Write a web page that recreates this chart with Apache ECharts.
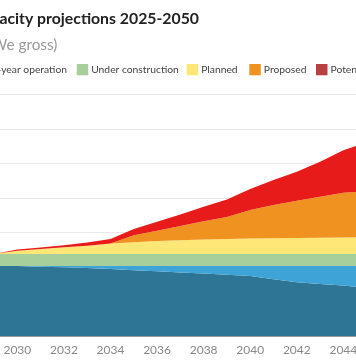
<!DOCTYPE html>
<html><head><meta charset="utf-8">
<script src="https://cdn.jsdelivr.net/npm/echarts@6/dist/echarts.min.js"></script>
<style>html,body{margin:0;padding:0;overflow:hidden;background:#fff;width:356px;height:364px}
#chart{position:absolute;left:-200px;top:0;width:720px;height:364px}</style>
</head><body><div id="chart"></div>
<script>
const titleText = 'Nuclear capacity projections 2025-2050';
const subtitleText = '(GWe gross)';
const years = ['2025','2026','2027','2028','2029','2030','2031','2032','2033','2034','2035','2036','2037','2038','2039','2040','2041','2042','2043','2044','2045','2046','2047','2048','2049','2050'];
const seriesNames = ['Operating: 40-year operation','Operating: 60-year operation','Under construction','Planned','Proposed','Potential'];
const operating40 = [202.6,202.6,202.6,202.6,202.6,202.6,200.6,198.8,196.8,193.9,190.1,187.2,183.8,180.9,177.4,173.6,164.1,155.4,150.5,146.1,138.9,132,124,116,108,100];
const operating60 = [0,0,0,0,0,0,2.0,3.8,5.8,8.7,12.5,15.4,18.8,21.7,25.2,29.0,38.5,47.2,52.1,56.5,63.7,70.6,78.6,86.6,94.6,102.6];
const underConstruction = [34.7,34.7,34.7,34.7,34.7,34.7,34.7,34.7,34.7,34.7,34.7,34.7,34.7,34.7,34.7,34.7,34.7,34.7,34.7,34.7,34.7,34.7,34.7,34.7,34.7,34.7];
const planned = [0,0,0,0,0,9.5,14.5,19.4,24.0,30.4,34.1,37.6,39.9,42.0,43.4,44.9,45.7,46.3,47.2,48.3,48.6,49.0,49.2,49.4,49.5,49.6];
const proposed = [0,0,0,0,0,0,0,0,0,0,20.3,30.1,41.1,52.7,63.7,82.5,96.1,107.9,118.7,129.1,133,137,140,143,146,148];
const potential = [0,0,0,0,0,4.0,4.3,5.8,9.3,13.0,17.9,25.8,33.6,42.3,50.9,60.8,72.4,83.9,101.3,123.6,141.8,155,168,180,190,200];
const yTicks = {min:0, max:700, interval:100};

const values = [operating40, operating60, underConstruction, planned, proposed, potential];
const lineColors = ['#2e7494','#3ea3d6','#a7cf9c','#fee677','#f0921f','#b94040'];
const areaColors = ['#2e7494','#3ea3d6','#a7cf9c','#fee677','#f0921f','#e81b1b'];
const FONT = 'Lato, "Noto Sans", sans-serif';

function fitSize(text, weight, target){
  const c = document.createElement('canvas').getContext('2d');
  c.font = weight + ' 100px ' + FONT;
  return Math.round(100 * target / c.measureText(text).width * 10) / 10;
}
const titleSize = fitSize('acity projections 2025-2050', 'bold', 199);
const subSize = fitSize('e gross)', 'normal', 51);
const legendSize = fitSize('Under construction', 'normal', 88);

const chart = echarts.init(document.getElementById('chart'), null, {renderer:'canvas'});
const series = seriesNames.map((n,i)=>({
  name:n, type:'line', stack:'total', data:values[i], symbol:'none', showSymbol:false,
  smooth:false, color:lineColors[i],
  lineStyle:{width:0, color:lineColors[i]},
  areaStyle:{color:areaColors[i], opacity:1},
  emphasis:{disabled:true}
}));
const legendBase = {orient:'horizontal', top:64, padding:0, itemWidth:11.5, itemHeight:11.3, itemGap:10, icon:'rect',
  textStyle:{color:'#444', fontSize:legendSize, fontFamily:FONT, padding:[0,0,0,-2]}, selectedMode:false};
const legends = [
  Object.assign({}, legendBase, {data:[seriesNames[0]], right:720-20}),
  Object.assign({}, legendBase, {data:[seriesNames[1]], right:720-267}),
  Object.assign({}, legendBase, {data:[seriesNames[2]], left:276.7}),
  Object.assign({}, legendBase, {data:[seriesNames[3]], left:386.7}),
  Object.assign({}, legendBase, {data:[seriesNames[4]], left:449.3}),
  Object.assign({}, legendBase, {data:[seriesNames[5]], left:516})
];
chart.setOption({
  animation:false,
  backgroundColor:'#fff',
  graphic:[
    {type:'text', x:399, y:18.5, style:{text:titleText, textAlign:'right', textVerticalAlign:'middle', fill:'#222', font:'bold '+titleSize+'px '+FONT}},
    {type:'text', x:257.3, y:45, style:{text:subtitleText, textAlign:'right', textVerticalAlign:'middle', fill:'#999', font:subSize+'px '+FONT}}
  ],
  legend:legends,
  grid:{left:100.9, right:36.9, top:94.3, bottom:28, containLabel:false},
  xAxis:{type:'category', data:years, boundaryGap:false,
    axisLine:{show:true, lineStyle:{color:'#999', width:1}}, axisTick:{show:false},
    axisLabel:{color:'#888', fontSize:12, fontFamily:FONT, margin:8,
      interval:(idx,val)=>Number(val)%2===0}},
  yAxis:{type:'value', min:yTicks.min, max:yTicks.max, interval:yTicks.interval,
    axisLine:{show:false}, axisTick:{show:false},
    axisLabel:{color:'#888', fontSize:12, fontFamily:FONT},
    splitLine:{show:true, lineStyle:{color:'#e8e8e8', width:1}}},
  series:series
});
</script></body></html>
